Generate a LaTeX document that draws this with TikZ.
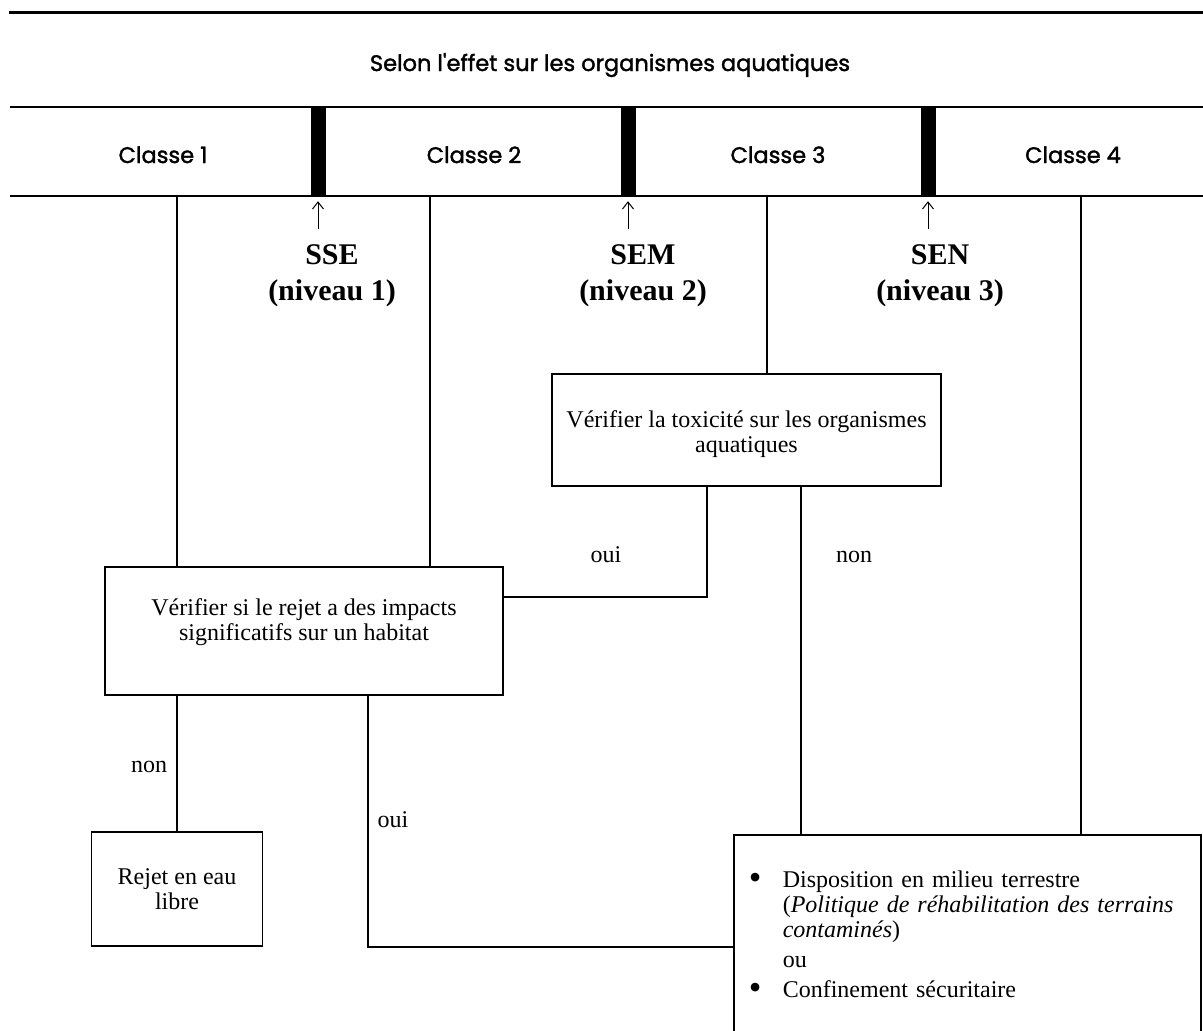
\documentclass[tikz,border=0pt]{standalone}
\usepackage{fontspec}
\setmainfont{Liberation Serif}
\newfontfamily\gothic{Poppins}[FakeBold=1.6]
\usetikzlibrary{arrows.meta}
\newcommand{\bigbullet}{{\fontsize{36}{25}\selectfont\raisebox{-2pt}{\textbullet}}}
\begin{document}
\begin{tikzpicture}[x=1pt,y=-1pt,
  conn/.style={line width=1.3pt},
  box/.style={draw, line width=1.6pt, inner sep=0pt, align=center, font=\fontsize{24}{25}\selectfont},
  sepbar/.style={fill=black, inner sep=0pt, minimum width=15pt, minimum height=89pt},
  cls/.style={font=\gothic\fontsize{22.5}{26}\selectfont, anchor=base, inner sep=0pt},
  lvl/.style={font=\bfseries\fontsize{30}{36}\selectfont, align=center, inner sep=0pt},
  ans/.style={font=\fontsize{24}{25}\selectfont, anchor=base, inner sep=0pt},
  uparr/.style={line width=1pt, -{Straight Barb[length=7pt,width=11pt]}, shorten >=5pt}
]
\useasboundingbox (0,0) rectangle (1203,1031);
\clip (0,0) rectangle (1203,1031);
\fill[white] (0,0) rectangle (1203,1031);

% top rule and title
\draw[line width=3pt] (9,12) -- (1203,12);
\node[cls] (title) at (610,71) {Selon l'effet sur les organismes aquatiques};

% class band
\draw[line width=2pt] (10,107) -- (1203,107);
\draw[line width=2pt] (10,196) -- (1203,196);
\node[sepbar] (s1) at (318,151.5) {};
\node[sepbar] (s2) at (628,151.5) {};
\node[sepbar] (s3) at (928,151.5) {};
\node[cls] (c1) at (163,163) {Classe 1};
\node[cls] (c2) at (474,163) {Classe 2};
\node[cls] (c3) at (778,163) {Classe 3};
\node[cls] (c4) at (1073,163) {Classe 4};

% arrows and levels
\coordinate (a1) at (318,229);
\coordinate (a2) at (628,229);
\coordinate (a3) at (928,229);
\draw[uparr] (a1) -- (s1.south);
\draw[uparr] (a2) -- (s2.south);
\draw[uparr] (a3) -- (s3.south);
\node[lvl] (l1) at (332,276) {SSE\\(niveau 1)};
\node[lvl] (l2) at (643,276) {SEM\\(niveau 2)};
\node[lvl] (l3) at (940,276) {SEN\\(niveau 3)};

% boxes
\node[box, minimum width=389pt, minimum height=112pt,
  label={[font=\fontsize{24}{25}\selectfont, align=center, yshift=-4pt]center:Vérifier la toxicité sur les organismes\\aquatiques}] (tox) at (746.5,430) {};
\node[box, minimum width=398pt, minimum height=128pt,
  label={[font=\fontsize{24}{25}\selectfont, align=center, yshift=9pt]center:Vérifier si le rejet a des impacts\\significatifs sur un habitat}] (hab) at (304,631) {};
\node[box, minimum width=171pt, minimum height=114pt] (rej) at (177,889)
  {Rejet en eau\\libre};
\node[box, anchor=north west, minimum width=467pt, minimum height=206pt,
  text width=437pt, inner xsep=15pt, align=left] (fin) at (733,834)
  {\begin{tabular}[t]{@{}p{34pt}@{}l@{}}
   \bigbullet & Disposition en milieu terrestre\\
    & (\textit{Politique de réhabilitation des terrains}\\
    & \textit{contaminés})\\[5pt]
    & ou\\[5pt]
   \bigbullet & Confinement sécuritaire
   \end{tabular}};

% connectors from the band
\coordinate (b1) at (177,196);
\coordinate (b2) at (430,196);
\coordinate (b3) at (767,196);
\coordinate (b4) at (1081,196);
\draw[conn] (b1) -- (b1 |- hab.north);
\draw[conn] (b2) -- (b2 |- hab.north);
\draw[conn] (b3) -- (b3 |- tox.north);
\draw[conn] (b4) -- (b4 |- fin.north);

% from toxicity box
\coordinate (ox) at (707,597);
\draw[conn] (ox |- tox.south) -- (ox) -- (ox -| hab.east);
\coordinate (nx) at (801,500);
\draw[conn] (nx |- tox.south) -- (nx |- fin.north);
\node[ans] (oui2) at (606,562) {oui};
\node[ans] (non2) at (854,562) {non};

% from habitat box
\draw[conn] (hab.south -| rej.north) -- (rej.north);
\coordinate (oy) at (368,947);
\draw[conn] (oy |- hab.south) -- (oy) -- (oy -| fin.west);
\node[ans] (non1) at (149,772) {non};
\node[ans] (oui1) at (393,827) {oui};
\end{tikzpicture}
\end{document}
